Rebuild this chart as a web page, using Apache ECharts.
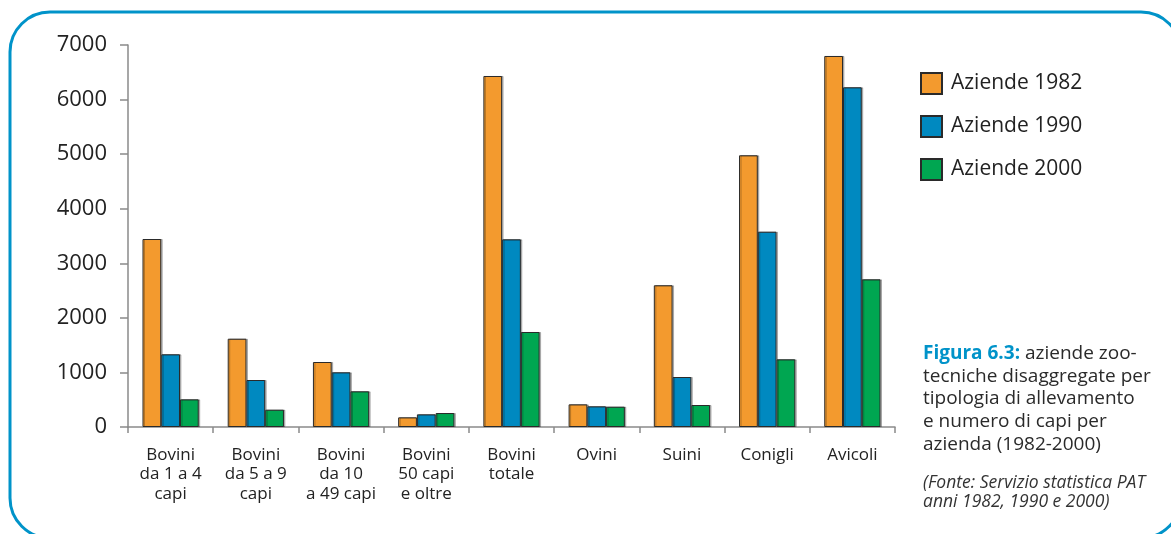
<!DOCTYPE html>
<html>
<head>
<meta charset="utf-8">
<style>
  html, body { margin: 0; padding: 0; background: #ffffff; }
  #chart { width: 1171px; height: 534px; }
</style>
<script src="https://cdn.jsdelivr.net/npm/echarts@6/dist/echarts.min.js"></script>
</head>
<body>
<div id="chart"></div>
<script>
// Livestock farms by type and herd size, Trentino 1982 / 1990 / 2000
const categories = [
  'Bovini\nda 1 a 4\ncapi',
  'Bovini\nda 5 a 9\ncapi',
  'Bovini\nda 10\na 49 capi',
  'Bovini\n50 capi\ne oltre',
  'Bovini\ntotale',
  'Ovini',
  'Suini',
  'Conigli',
  'Avicoli'
];
const seriesNames = ['Aziende 1982', 'Aziende 1990', 'Aziende 2000'];
const aziende1982 = [3445, 1618, 1191, 177, 6432, 415, 2597, 4979, 6799];
const aziende1990 = [1332, 861, 1002, 232, 3439, 379, 916, 3579, 6225];
const aziende2000 = [507, 317, 654, 256, 1741, 372, 403, 1240, 2706];
const yTicks = { min: 0, max: 7000, interval: 1000 };

const colors = ['#F39A2E', '#0089C0', '#00A651'];
const FONT = '"Open Sans", "Noto Sans", sans-serif';

const chart = echarts.init(document.getElementById('chart'), null, { renderer: 'canvas' });

function barSeries(name, data, color) {
  return {
    name: name,
    type: 'bar',
    data: data,
    barWidth: '22%',
    barGap: '0%',
    itemStyle: {
      color: color,
      borderColor: '#2a2a2a',
      borderWidth: 1,
      shadowColor: 'rgba(0,0,0,0.25)',
      shadowOffsetX: 1.5,
      shadowBlur: 0
    },
    emphasis: { disabled: true }
  };
}

chart.setOption({
  animation: false,
  textStyle: { fontFamily: FONT },
  grid: { left: 128, right: 276, top: 45, bottom: 107, containLabel: false },
  legend: {
    orient: 'vertical',
    left: 915,
    top: 67,
    itemWidth: 21,
    itemHeight: 21,
    itemGap: 20,
    icon: 'rect',
    data: seriesNames,
    textStyle: { fontFamily: FONT, fontSize: 21, color: '#222', padding: [0, 0, 0, 4] },
    selectedMode: false
  },
  xAxis: {
    type: 'category',
    data: categories,
    boundaryGap: true,
    axisLine: { lineStyle: { color: '#8a8a8a', width: 1.5 } },
    axisTick: { show: true, length: 6, inside: false, alignWithLabel: false, lineStyle: { color: '#8a8a8a', width: 1.5 } },
    axisLabel: {
      interval: 0,
      margin: 18,
      fontFamily: FONT,
      fontSize: 17,
      lineHeight: 19.5,
      color: '#222',
      align: 'center',
      verticalAlign: 'top'
    },
    splitLine: { show: false }
  },
  yAxis: {
    type: 'value',
    min: yTicks.min,
    max: yTicks.max,
    interval: yTicks.interval,
    axisLine: { show: true, lineStyle: { color: '#8a8a8a', width: 1.5 } },
    axisTick: { show: true, length: 8, lineStyle: { color: '#8a8a8a', width: 1.5 } },
    axisLabel: {
      margin: 21,
      fontFamily: FONT,
      fontSize: 22,
      color: '#222',
      formatter: function (v) { return String(v); }
    },
    splitLine: { show: false }
  },
  series: [
    barSeries(seriesNames[0], aziende1982, colors[0]),
    barSeries(seriesNames[1], aziende1990, colors[1]),
    barSeries(seriesNames[2], aziende2000, colors[2])
  ],
  graphic: [
    {
      type: 'rect',
      shape: { x: 10, y: 12, width: 1171, height: 526, r: 40 },
      style: { fill: 'none', stroke: '#0093C9', lineWidth: 3 },
      silent: true,
      z: -1
    },
    {
      type: 'text',
      x: 923,
      y: 342,
      style: {
        text: '{b|Figura 6.3:} aziende zoo-\ntecniche disaggregate per\ntipologia di allevamento\ne numero di capi per\nazienda (1982-2000)',
        fontFamily: FONT,
        fontSize: 19,
        lineHeight: 22.8,
        fill: '#2a2a2a',
        rich: {
          b: { fontFamily: FONT, fontSize: 19, fontWeight: 'bold', fill: '#0093C9', lineHeight: 22.8 }
        }
      },
      silent: true
    },
    {
      type: 'text',
      x: 923,
      y: 474,
      style: {
        text: '(Fonte: Servizio statistica PAT\nanni 1982, 1990 e 2000)',
        fontFamily: FONT,
        fontSize: 17.5,
        fontStyle: 'italic',
        lineHeight: 19,
        fill: '#333'
      },
      silent: true
    }
  ]
});
</script>
</body>
</html>
